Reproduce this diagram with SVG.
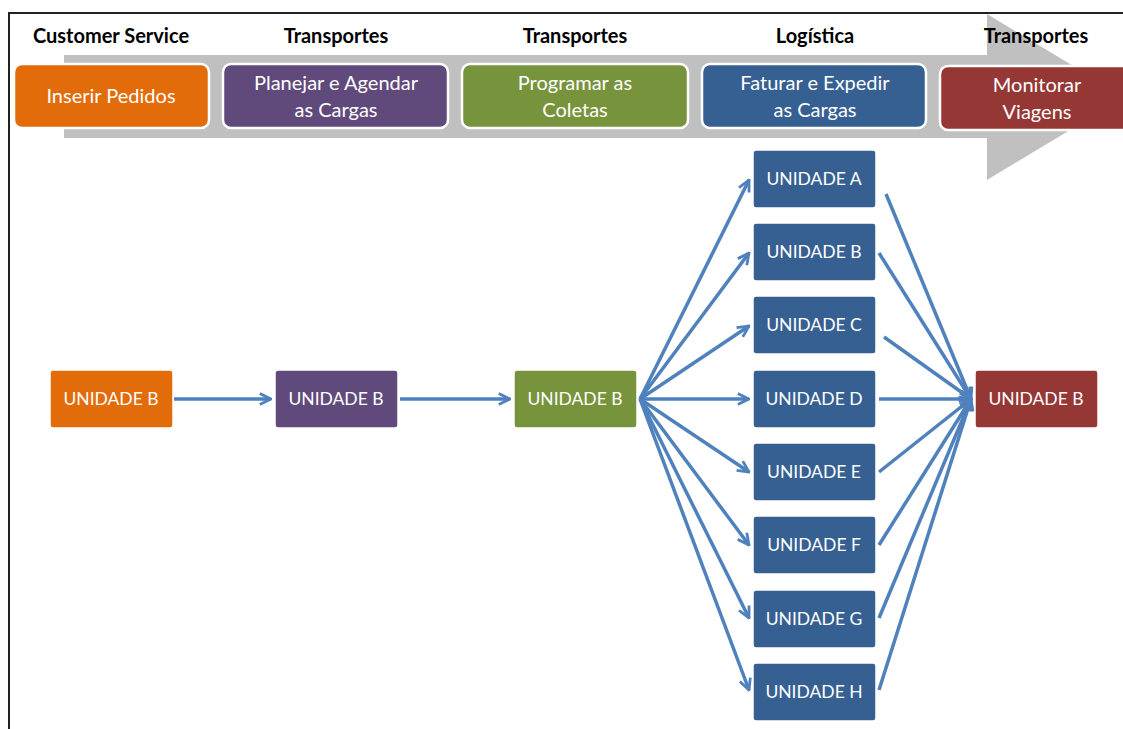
<svg xmlns="http://www.w3.org/2000/svg" width="1123" height="729" viewBox="0 0 1123 729">
  <defs>
    <marker id="arr" viewBox="0 0 10 10" refX="9" refY="5" markerWidth="4" markerHeight="4" orient="auto" markerUnits="strokeWidth">
      <path d="M1,1 L9,5 L1,9" fill="none" stroke="#4F81BD" stroke-width="2"/>
    </marker>
  </defs>
  <style>
    .hdr { font-family: Lato, "Open Sans", "Liberation Sans", sans-serif; font-weight: bold; font-size: 20px; fill: #000; text-anchor: middle; }
    .step { stroke: #fff; stroke-width: 2.5; }
    .stxt { font-family: Lato, "Open Sans", "Liberation Sans", sans-serif; font-size: 20px; fill: #fff; text-anchor: middle; }
    .unit { stroke: #fff; stroke-width: 1.5; }
    .utxt { font-family: Lato, "Open Sans", "Liberation Sans", sans-serif; font-size: 17.5px; fill: #fff; text-anchor: middle; }
    .lnk { stroke: #4F81BD; stroke-width: 3.5; fill: none; marker-end: url(#arr); }
    .org { fill: #E36C0A; } .pur { fill: #604A7B; } .grn { fill: #77933C; } .blu { fill: #366092; } .red { fill: #953735; }
  </style>
  <rect width="1123" height="729" fill="#fff"/>
  <!-- frame -->
  <path d="M9,729 V13 H1123" fill="none" stroke="#222" stroke-width="2"/>
  <!-- process band arrow -->
  <path d="M64,55 H987 V14 L1125,97 L987,180 V138 H64 Z" fill="#C0C0C0"/>

  <!-- department headers -->
  <g id="headers">
    <text class="hdr" x="111" y="43">Customer Service</text>
    <text class="hdr" x="336" y="43">Transportes</text>
    <text class="hdr" x="575" y="43">Transportes</text>
    <text class="hdr" x="815" y="43">Logística</text>
    <text class="hdr" x="1036" y="43">Transportes</text>
  </g>

  <!-- process steps -->
  <g id="step-inserir"><rect class="step org" x="14" y="64" width="195" height="64" rx="8"/><text class="stxt" x="111" y="103">Inserir Pedidos</text></g>
  <g id="step-planejar"><rect class="step pur" x="223" y="64" width="225" height="64" rx="8"/><text class="stxt" x="336" y="90">Planejar e Agendar</text><text class="stxt" x="336" y="117">as Cargas</text></g>
  <g id="step-programar"><rect class="step grn" x="462" y="64" width="226" height="64" rx="8"/><text class="stxt" x="575" y="90">Programar as</text><text class="stxt" x="575" y="117">Coletas</text></g>
  <g id="step-faturar"><rect class="step blu" x="702" y="64" width="224" height="64" rx="8"/><text class="stxt" x="815" y="90">Faturar e Expedir</text><text class="stxt" x="815" y="117">as Cargas</text></g>
  <g id="step-monitorar"><rect class="step red" x="940" y="66" width="190" height="64" rx="8"/><text class="stxt" x="1037" y="92">Monitorar</text><text class="stxt" x="1037" y="119">Viagens</text></g>

  <!-- connectors -->
  <g id="connectors">
    <path class="lnk" d="M174,399 H271"/>
    <path class="lnk" d="M400,399 H510"/>
    <path class="lnk" d="M640,399 L749,180"/>
    <path class="lnk" d="M640,399 L749,253"/>
    <path class="lnk" d="M640,399 L749,326"/>
    <path class="lnk" d="M640,399 H749"/>
    <path class="lnk" d="M640,399 L749,472"/>
    <path class="lnk" d="M640,399 L749,545"/>
    <path class="lnk" d="M640,399 L749,618"/>
    <path class="lnk" d="M640,399 L749,690"/>
    <path class="lnk" d="M886,194 L971,399"/>
    <path class="lnk" d="M879,253 L971,399"/>
    <path class="lnk" d="M884,337 L971,399"/>
    <path class="lnk" d="M879,399 H971"/>
    <path class="lnk" d="M879,472 L971,399"/>
    <path class="lnk" d="M879,545 L971,399"/>
    <path class="lnk" d="M879,618 L971,399"/>
    <path class="lnk" d="M879,690 L971,399"/>
  </g>

  <!-- units -->
  <g id="u-cs"><rect class="unit org" x="50" y="370" width="123" height="58" rx="3"/><text class="utxt" x="111" y="405">UNIDADE B</text></g>
  <g id="u-plan"><rect class="unit pur" x="275" y="370" width="123" height="58" rx="3"/><text class="utxt" x="336" y="405">UNIDADE B</text></g>
  <g id="u-prog"><rect class="unit grn" x="514" y="370" width="123" height="58" rx="3"/><text class="utxt" x="575" y="405">UNIDADE B</text></g>
  <g id="u-a"><rect class="unit blu" x="753" y="150" width="123" height="58" rx="3"/><text class="utxt" x="814" y="185">UNIDADE A</text></g>
  <g id="u-b"><rect class="unit blu" x="753" y="223" width="123" height="58" rx="3"/><text class="utxt" x="814" y="258">UNIDADE B</text></g>
  <g id="u-c"><rect class="unit blu" x="753" y="296" width="123" height="58" rx="3"/><text class="utxt" x="814" y="331">UNIDADE C</text></g>
  <g id="u-d"><rect class="unit blu" x="753" y="370" width="123" height="58" rx="3"/><text class="utxt" x="814" y="405">UNIDADE D</text></g>
  <g id="u-e"><rect class="unit blu" x="753" y="443" width="123" height="58" rx="3"/><text class="utxt" x="814" y="478">UNIDADE E</text></g>
  <g id="u-f"><rect class="unit blu" x="753" y="516" width="123" height="58" rx="3"/><text class="utxt" x="814" y="551">UNIDADE F</text></g>
  <g id="u-g"><rect class="unit blu" x="753" y="590" width="123" height="58" rx="3"/><text class="utxt" x="814" y="625">UNIDADE G</text></g>
  <g id="u-h"><rect class="unit blu" x="753" y="663" width="123" height="58" rx="3"/><text class="utxt" x="814" y="698">UNIDADE H</text></g>
  <g id="u-mon"><rect class="unit red" x="975" y="370" width="123" height="58" rx="3"/><text class="utxt" x="1036" y="405">UNIDADE B</text></g>
</svg>
